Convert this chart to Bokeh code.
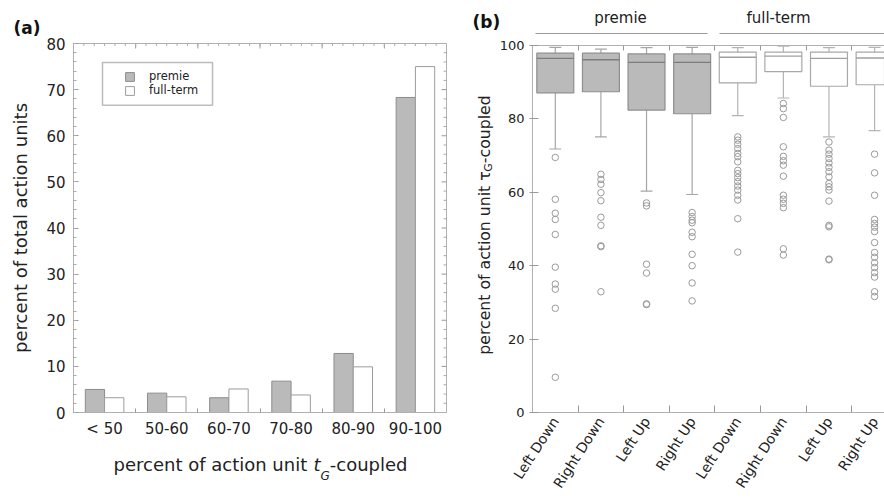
import math
from bokeh.plotting import figure
from bokeh.layouts import row, column
from bokeh.models import (ColumnDataSource, FixedTicker, SingleIntervalTicker, LinearAxis,
                          Range1d, Legend, LegendItem, BoxAnnotation, Title)
from bokeh.core.properties import value
from bokeh.embed import file_html
from bokeh.resources import INLINE

# ---------------- data: panel (a) ----------------
bins = ["< 50", "50-60", "60-70", "70-80", "80-90", "90-100"]
premie_pct = [5.0, 4.2, 3.2, 6.8, 12.8, 68.3]
fullterm_pct = [3.2, 3.4, 5.1, 3.8, 9.9, 75.0]

# ---------------- data: panel (b) ----------------
groups = ["premie", "full-term"]
movements = ["Left Down", "Right Down", "Left Up", "Right Up"]
box_group = ["premie"] * 4 + ["full-term"] * 4
box_labels = movements * 2
whisker_low = [71.8, 75.1, 60.3, 59.4, 80.9, 85.7, 75.1, 76.8]
q1 = [87.1, 87.4, 82.4, 81.4, 89.8, 92.9, 88.9, 89.3]
median = [96.5, 96.1, 95.4, 95.4, 96.8, 97.1, 96.5, 96.6]
q3 = [97.9, 97.9, 97.7, 97.7, 98.2, 98.2, 98.2, 98.2]
whisker_high = [99.5, 99.0, 99.4, 99.5, 99.4, 99.8, 99.4, 99.5]
outliers = [
    [69.5, 58.1, 54.3, 52.6, 48.5, 39.6, 35.0, 33.6, 28.4, 9.6],
    [64.9, 63.5, 62.2, 59.9, 57.7, 53.2, 51.0, 45.4, 45.2, 32.9],
    [57.1, 56.3, 40.4, 38.0, 29.6, 29.4],
    [54.5, 53.4, 52.4, 51.7, 49.1, 47.9, 43.1, 40.0, 35.3, 30.4],
    [75.1, 74.2, 73.1, 71.9, 70.6, 69.7, 68.3, 66.0, 65.1, 64.0, 62.9, 61.7, 60.6, 59.2, 57.9, 52.8, 43.7],
    [84.2, 82.8, 80.4, 72.4, 69.8, 68.6, 67.4, 64.4, 59.2, 58.1, 57.0, 55.8, 44.6, 42.9],
    [73.7, 71.5, 70.4, 69.2, 68.0, 66.8, 65.6, 64.2, 62.4, 61.5, 60.6, 57.6, 51.0, 50.6, 41.8, 41.6],
    [70.4, 65.3, 59.2, 52.6, 51.5, 50.5, 49.3, 46.3, 43.6, 42.3, 40.8, 39.5, 38.1, 36.9, 32.9, 31.6],
]

# ---------------- style ----------------
FONT = "DejaVu Sans"
TXT = "#222222"
FRAME = "#b0b0b0"
TICK = "#999999"
PRE_FILL, PRE_LINE = "#bababa", "#8c8c8c"
FT_FILL, FT_LINE = "#ffffff", "#9c9c9c"

# approximate DejaVu Sans advance widths (em) for placing multi-style labels
W = {' ': .318, 'a': .613, 'c': .550, 'd': .635, 'e': .615, 'f': .352, 'i': .278, 'l': .278,
     'n': .634, 'o': .612, 'p': .635, 'r': .411, 't': .392, 'u': .634, '-': .361, 'G': .779,
     'τ': .58}


def tw(s, size):
    return sum(W.get(ch, 0.6) for ch in s) * size


def strip(w, h, x0, x1, y_bottom, y_top, bl=0, br=0, bt=0, bb=0):
    """A blank figure used only to carry text / decoration in page-pixel coordinates."""
    s = figure(width=w, height=h, x_range=Range1d(x0, x1), y_range=Range1d(y_bottom, y_top),
               output_backend="svg", toolbar_location=None, x_axis_type=None, y_axis_type=None,
               min_border_left=bl, min_border_right=br, min_border_top=bt, min_border_bottom=bb)
    s.outline_line_color = None
    s.background_fill_color = "white"
    s.border_fill_color = "white"
    return s


H = 498
# =============== panel (a) ===============
WA = 460
A_L, A_R, A_T, A_B = 73, 446, 43, 413
BOT_A = 440         # page y where the strip below (a) starts
n_a = len(bins)
YMAX_A = 80

pa = figure(width=WA, height=BOT_A, x_range=Range1d(-0.5, n_a - 0.5),
            y_range=Range1d(0, YMAX_A), output_backend="svg", toolbar_location=None,
            x_axis_type=None, y_axis_type=None,
            title=Title(text="(a)", align="left", offset=13 - A_L, standoff=12,
                        text_font=FONT, text_font_size="17px", text_font_style="bold",
                        text_color="#111111"),
            min_border_left=A_L, min_border_right=WA - A_R, min_border_top=A_T,
            min_border_bottom=BOT_A - A_B)
pa.outline_line_color = FRAME
pa.background_fill_color = "white"
pa.border_fill_color = "white"

pxu_a = (A_R - A_L) / n_a            # pixels per x unit
pyu_a = (A_B - A_T) / YMAX_A         # pixels per y unit

idx_a = list(range(n_a))
bw = 0.31
src_a = ColumnDataSource(dict(xp=[i - bw / 2 for i in idx_a], xf=[i + bw / 2 for i in idx_a],
                              premie=premie_pct, full=fullterm_pct))
r_pre = pa.vbar(x="xp", top="premie", width=bw, source=src_a, fill_color=PRE_FILL,
                line_color=PRE_LINE, line_width=1)
r_ft = pa.vbar(x="xf", top="full", width=bw, source=src_a, fill_color=FT_FILL,
               line_color=FT_LINE, line_width=1)

bounds_a = [i + 0.5 for i in idx_a[:-1]]

xb = LinearAxis(ticker=FixedTicker(ticks=idx_a, minor_ticks=bounds_a),
                major_label_overrides={i: b for i, b in zip(idx_a, bins)})
xb.major_tick_in = 0
xb.major_tick_out = 0
xb.minor_tick_in = 4
xb.minor_tick_out = 0
xb.minor_tick_line_color = TICK
xb.axis_line_color = FRAME
xb.major_label_text_font = FONT
xb.major_label_text_font_size = "15px"
xb.major_label_text_color = TXT
xb.major_label_standoff = 7
pa.add_layout(xb, "below")

ya = LinearAxis(ticker=SingleIntervalTicker(interval=10, num_minor_ticks=5))
ya.major_tick_in = 5
ya.major_tick_out = 0
ya.minor_tick_in = 3
ya.minor_tick_out = 0
ya.major_tick_line_color = TICK
ya.minor_tick_line_color = "#aaaaaa"
ya.axis_line_color = FRAME
ya.major_label_text_font = FONT
ya.major_label_text_font_size = "15px"
ya.major_label_text_color = TXT
ya.major_label_standoff = 8
ya.axis_label = "percent of total action units"
ya.axis_label_text_font = FONT
ya.axis_label_text_font_size = "18px"
ya.axis_label_text_font_style = "normal"
ya.axis_label_text_color = TXT
ya.axis_label_standoff = 12
pa.add_layout(ya, "left")

# inward ticks on the top and right edges of the (a) frame
top_major = bounds_a
top_minor = [-0.5 + k / 6 for k in range(1, 6 * n_a)]
pa.segment(x0=top_major, x1=top_major, y0=[YMAX_A] * len(top_major),
           y1=[YMAX_A - 5 / pyu_a] * len(top_major), line_color=TICK, line_width=1)
pa.segment(x0=top_minor, x1=top_minor, y0=[YMAX_A] * len(top_minor),
           y1=[YMAX_A - 2.5 / pyu_a] * len(top_minor), line_color="#aaaaaa", line_width=1)
r_major = list(range(10, YMAX_A, 10))
r_minor = [v for v in range(2, YMAX_A, 2) if v % 10]
xr = n_a - 0.5
pa.segment(x0=[xr] * len(r_major), x1=[xr - 5 / pxu_a] * len(r_major), y0=r_major, y1=r_major,
           line_color=TICK, line_width=1)
pa.segment(x0=[xr] * len(r_minor), x1=[xr - 3 / pxu_a] * len(r_minor), y0=r_minor, y1=r_minor,
           line_color="#aaaaaa", line_width=1)

legend = Legend(items=[LegendItem(label=groups[0], renderers=[r_pre]),
                       LegendItem(label=groups[1], renderers=[r_ft])],
                location=(124 - A_L, A_B - 98), border_line_color=None,
                background_fill_alpha=0, padding=0, margin=0, spacing=0,
                glyph_width=11, glyph_height=11, label_height=11, label_standoff=14,
                label_text_font=FONT, label_text_font_size="11.5px", label_text_color=TXT)
pa.add_layout(legend)


def ax(px):
    return -0.5 + (px - A_L) / pxu_a


def ay(py):
    return (A_B - py) / pyu_a


pa.add_layout(BoxAnnotation(left=ax(102), right=ax(212), top=ay(62), bottom=ay(105),
                            fill_color=None, line_color="#222222", line_width=1.5))

# strip below (a): x-axis title "percent of action unit t_G-coupled"
# (its frame lines up with the (a) frame, so its x range is the frame's page-pixel span)
sa_bot = strip(WA, H - BOT_A, A_L, A_R, H, BOT_A, bl=A_L, br=WA - A_R)
XS = 18
pieces_a = [("percent of action unit ", XS, "normal", 464),
            ("t", XS, "italic", 464),
            ("G", 12, "italic", 475),
            ("-coupled", XS, "normal", 464)]
cx = 113
for txt, sz, st, yb_ in pieces_a:
    sa_bot.text(x=[cx], y=[yb_], text=[txt], text_font=value(FONT), text_font_size=f"{sz}px",
                text_font_style=st, text_color=TXT, text_align="left",
                text_baseline="alphabetic")
    cx += tw(txt, sz)

# =============== panel (b) ===============
WB = 884 - WA
B_L, B_T, B_B = 529, 45, 413
HEAD_B = 39          # height of the header strip above (b)
YLAB_W = 36          # width of the strip carrying the (b) y-axis title
STEP = 46.0
n_b = len(box_labels)


def bpx(xv):
    return B_L + (xv + 0.5) * STEP


pb = figure(width=WB - YLAB_W, height=H - HEAD_B,
            x_range=Range1d(-0.5, -0.5 + (884 - B_L) / STEP), y_range=Range1d(0, 100),
            output_backend="svg", toolbar_location=None, x_axis_type=None, y_axis_type=None,
            min_border_left=B_L - WA - YLAB_W, min_border_right=0,
            min_border_top=B_T - HEAD_B, min_border_bottom=H - B_B)
pb.outline_line_color = None
pb.background_fill_color = "white"
pb.border_fill_color = "white"

idx_b = list(range(n_b))
is_pre = [g == groups[0] for g in box_group]
box_fill = [PRE_FILL if p else FT_FILL for p in is_pre]
box_line = ["#8e8e8e" if p else "#a8a8a8" for p in is_pre]
med_line = ["#7c7c7c" if p else "#a0a0a0" for p in is_pre]
wh_line = ["#a6a6a6" if p else "#b4b4b4" for p in is_pre]
bwb = 0.81
cap = 0.13
src_b = ColumnDataSource(dict(x=idx_b, lo=whisker_low, q1=q1, med=median, q3=q3, hi=whisker_high,
                              x0=[i - bwb / 2 for i in idx_b], x1=[i + bwb / 2 for i in idx_b],
                              c0=[i - cap for i in idx_b], c1=[i + cap for i in idx_b],
                              fill=box_fill, line=box_line, medc=med_line, whc=wh_line))
pb.segment(x0="x", y0="q3", x1="x", y1="hi", source=src_b, line_color="whc", line_width=1.2)
pb.segment(x0="x", y0="q1", x1="x", y1="lo", source=src_b, line_color="whc", line_width=1.2)
pb.segment(x0="c0", y0="hi", x1="c1", y1="hi", source=src_b, line_color="whc", line_width=1.2)
pb.segment(x0="c0", y0="lo", x1="c1", y1="lo", source=src_b, line_color="whc", line_width=1.2)
pb.vbar(x="x", bottom="q1", top="q3", width=bwb, source=src_b, fill_color="fill",
        line_color="line", line_width=1.2)
pb.segment(x0="x0", y0="med", x1="x1", y1="med", source=src_b, line_color="medc", line_width=1.4)

ox, oy = [], []
for i, vals in enumerate(outliers):
    ox += [i] * len(vals)
    oy += vals
pb.scatter(x=ox, y=oy, marker="circle", size=6.5, fill_color=None, line_color="#9a9a9a",
           line_width=1)

bounds_b = [i + 0.5 for i in idx_b[:-1]]
xbb = LinearAxis(ticker=FixedTicker(ticks=idx_b, minor_ticks=bounds_b),
                 major_label_overrides={i: b for i, b in zip(idx_b, box_labels)})
xbb.major_tick_in = 0
xbb.major_tick_out = 0
xbb.minor_tick_in = 7
xbb.minor_tick_out = 0
xbb.minor_tick_line_color = TICK
xbb.axis_line_color = FRAME
xbb.major_label_orientation = math.radians(57)
xbb.major_label_text_font = FONT
xbb.major_label_text_font_size = "14px"
xbb.major_label_text_color = TXT
xbb.major_label_standoff = 6
pb.add_layout(xbb, "below")

xtb = LinearAxis(ticker=FixedTicker(ticks=[], minor_ticks=bounds_b))
xtb.minor_tick_in = 5
xtb.minor_tick_out = 0
xtb.minor_tick_line_color = TICK
xtb.axis_line_color = FRAME
xtb.major_label_standoff = 0
pb.add_layout(xtb, "above")

ylb = LinearAxis(ticker=SingleIntervalTicker(interval=20, num_minor_ticks=0))
ylb.major_tick_in = 6
ylb.major_tick_out = 3
ylb.major_tick_line_color = TICK
ylb.axis_line_color = FRAME
ylb.major_label_text_font = FONT
ylb.major_label_text_font_size = "13px"
ylb.major_label_text_color = TXT
ylb.major_label_standoff = 5
pb.add_layout(ylb, "left")

# header strip above (b): panel letter, group names and group lines
hb = strip(WB, HEAD_B, WA, 884, HEAD_B, 0)
hb.text(x=[472], y=[21], text=["(b)"], text_font=value(FONT), text_font_size="17px",
        text_font_style="bold", text_color="#111111", text_align="left", text_baseline="middle")
group_span = [(-0.5, 3.5), (3.5, 7.5)]
group_text_px = [620, 778]
hb.segment(x0=[bpx(g0 + 0.13) for g0, g1 in group_span],
           x1=[bpx(g1 - 0.13) for g0, g1 in group_span],
           y0=[33, 33], y1=[33, 33], line_color="#9a9a9a", line_width=1)
hb.text(x=group_text_px, y=[17, 17], text=groups, text_font=value(FONT), text_font_size="15px",
        text_color=TXT, text_align="center", text_baseline="middle")

# strip left of (b): rotated y-axis title "percent of action unit τ_G-coupled"
# (its frame lines up vertically with the (b) frame, so its y range is that page-pixel span)
yb = strip(YLAB_W, H - HEAD_B, WA, WA + YLAB_W, B_B, B_T,
           bt=B_T - HEAD_B, bb=H - B_B)
YS = 15.7
pieces_b = [("percent of action unit ", YS, 484),
            ("τ", YS, 484),
            ("G", 11, 488),
            ("-coupled", YS, 484)]
cy = 355
for txt, sz, xl in pieces_b:
    yb.text(x=[xl], y=[cy], text=[txt], angle=math.pi / 2, text_font=value(FONT),
            text_font_size=f"{sz}px", text_color=TXT, text_align="left",
            text_baseline="middle")
    cy -= tw(txt, sz)

layout = row(column(pa, sa_bot), column(hb, row(yb, pb)))
open("out.html", "w").write(file_html(layout, INLINE))
